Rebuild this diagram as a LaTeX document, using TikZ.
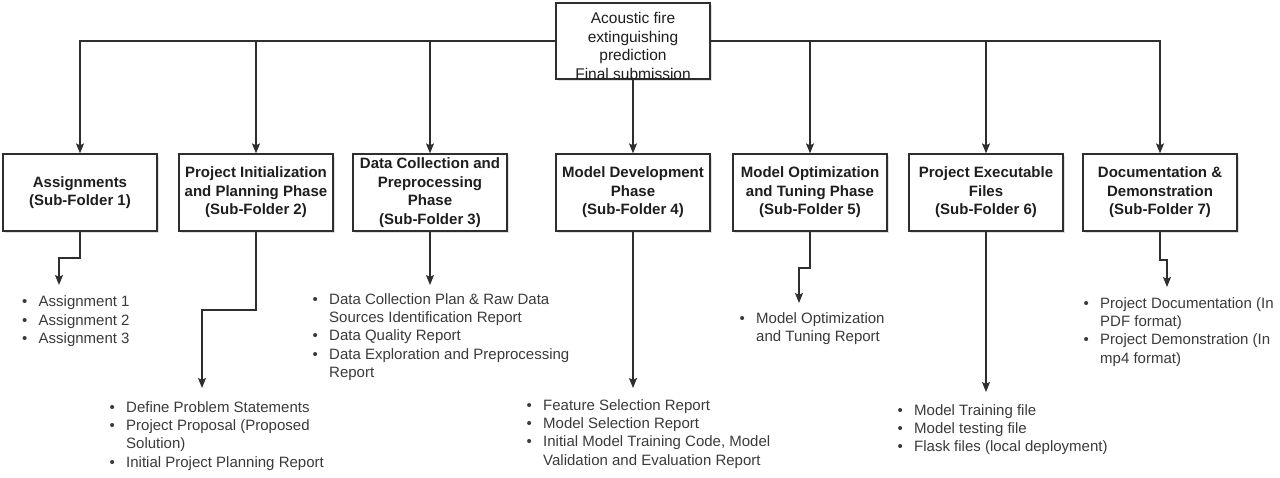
\documentclass[tikz,border=0pt]{standalone}
\usepackage{fontspec}
\setmainfont{Liberation Sans}
\usetikzlibrary{arrows.meta,shadows}
\definecolor{linec}{HTML}{2E2E2E}
\definecolor{boxtxt}{HTML}{1E1E1E}
\definecolor{listtxt}{HTML}{3A3A3A}
\newcommand\bi{\makebox[16.5pt][l]{\textbullet}}
\newcommand\ci{\hspace*{16.5pt}}
\begin{document}
\begin{tikzpicture}[x=1pt,y=-1pt,
  box/.style={draw=linec, line width=1.3pt, fill=white, minimum width=154pt, minimum height=77pt,
    inner sep=2pt, align=center, font=\bfseries\fontsize{15}{18.5}\selectfont, text=boxtxt,
    drop shadow={shadow xshift=2pt, shadow yshift=-2pt, opacity=0.25}},
  topbox/.style={draw=linec, line width=1.4pt, fill=white, minimum width=154pt, minimum height=76pt,
    inner sep=0pt, drop shadow={shadow xshift=2pt, shadow yshift=-2pt, opacity=0.25}},
  toptext/.style={inner sep=0pt, align=center, font=\fontsize{15.5}{18.5}\selectfont, text=boxtxt},
  lst/.style={anchor=base west, inner sep=0pt, align=left, font=\fontsize{15}{18.4}\selectfont, text=listtxt},
  arr/.style={draw=linec, line width=1.3pt, -{Stealth[length=10pt,width=8pt,inset=2pt]}}]
\path[use as bounding box] (0,0) rectangle (1280,478);

% top
\node[topbox] (top) at (633,41) {};
\node[toptext] (toptxt) at (633,46) {Acoustic fire\\extinguishing\\prediction\\Final submission};

% sub-folders
\node[box] (b1) at (80,192.5) {Assignments\\(Sub-Folder 1)};
\node[box] (b2) at (256,192.5) {Project Initialization\\and Planning Phase\\(Sub-Folder 2)};
\node[box] (b3) at (430,192.5) {Data Collection and\\Preprocessing\\Phase\\(Sub-Folder 3)};
\node[box] (b4) at (633,192.5) {Model Development\\Phase\\(Sub-Folder 4)};
\node[box] (b5) at (810,192.5) {Model Optimization\\and Tuning Phase\\(Sub-Folder 5)};
\node[box] (b6) at (986,192.5) {Project Executable\\Files\\(Sub-Folder 6)};
\node[box] (b7) at (1160,192.5) {Documentation \&\\Demonstration\\(Sub-Folder 7)};

% top connectors
\draw[arr] (top.west) -| (b1.north);
\draw[arr] (top.west) -| (b2.north);
\draw[arr] (top.west) -| (b3.north);
\draw[arr] (top.south) -- (b4.north);
\draw[arr] (top.east) -| (b5.north);
\draw[arr] (top.east) -| (b6.north);
\draw[arr] (top.east) -| (b7.north);

% lists (anchored at the baseline of their last line)
\node[lst] (l1) at (22,343.8) {\bi Assignment 1\\ \bi Assignment 2\\ \bi Assignment 3};
\node[lst] (l2) at (109.5,467.2) {\bi Define Problem Statements\\ \bi Project Proposal (Proposed\\ \ci Solution)\\ \bi Initial Project Planning Report};
\node[lst] (l3) at (312.5,377.6) {\bi Data Collection Plan \& Raw Data\\ \ci Sources Identification Report\\ \bi Data Quality Report\\ \bi Data Exploration and Preprocessing\\ \ci Report};
\node[lst] (l4) at (526.5,465.2) {\bi Feature Selection Report\\ \bi Model Selection Report\\ \bi Initial Model Training Code, Model\\ \ci Validation and Evaluation Report};
\node[lst] (l5) at (739.5,341.4) {\bi Model Optimization\\ \ci and Tuning Report};
\node[lst] (l6) at (897.5,451.8) {\bi Model Training file\\ \bi Model testing file\\ \bi Flask files (local deployment)};
\node[lst] (l7) at (1083.5,363.2) {\bi Project Documentation (In\\ \ci PDF format)\\ \bi Project Demonstration (In\\ \ci mp4 format)};

% bottom connectors
\coordinate (s1) at (59,258);   \coordinate (e1) at (59,285);
\coordinate (s2) at (202,310);  \coordinate (e2) at (202,388);
\coordinate (e3) at (430,285);
\coordinate (e4) at (633,388);
\coordinate (s5) at (799,268);  \coordinate (e5) at (799,303);
\coordinate (e6) at (986,392);
\coordinate (s7) at (1167,260); \coordinate (e7) at (1167,287);

\draw[arr] (b1.south) |- (s1) -- (e1);
\draw[arr] (b2.south) |- (s2) -- (e2);
\draw[arr] (b3.south) -- (e3);
\draw[arr] (b4.south) -- (e4);
\draw[arr] (b5.south) |- (s5) -- (e5);
\draw[arr] (b6.south) -- (e6);
\draw[arr] (b7.south) |- (s7) -- (e7);
\end{tikzpicture}
\end{document}
